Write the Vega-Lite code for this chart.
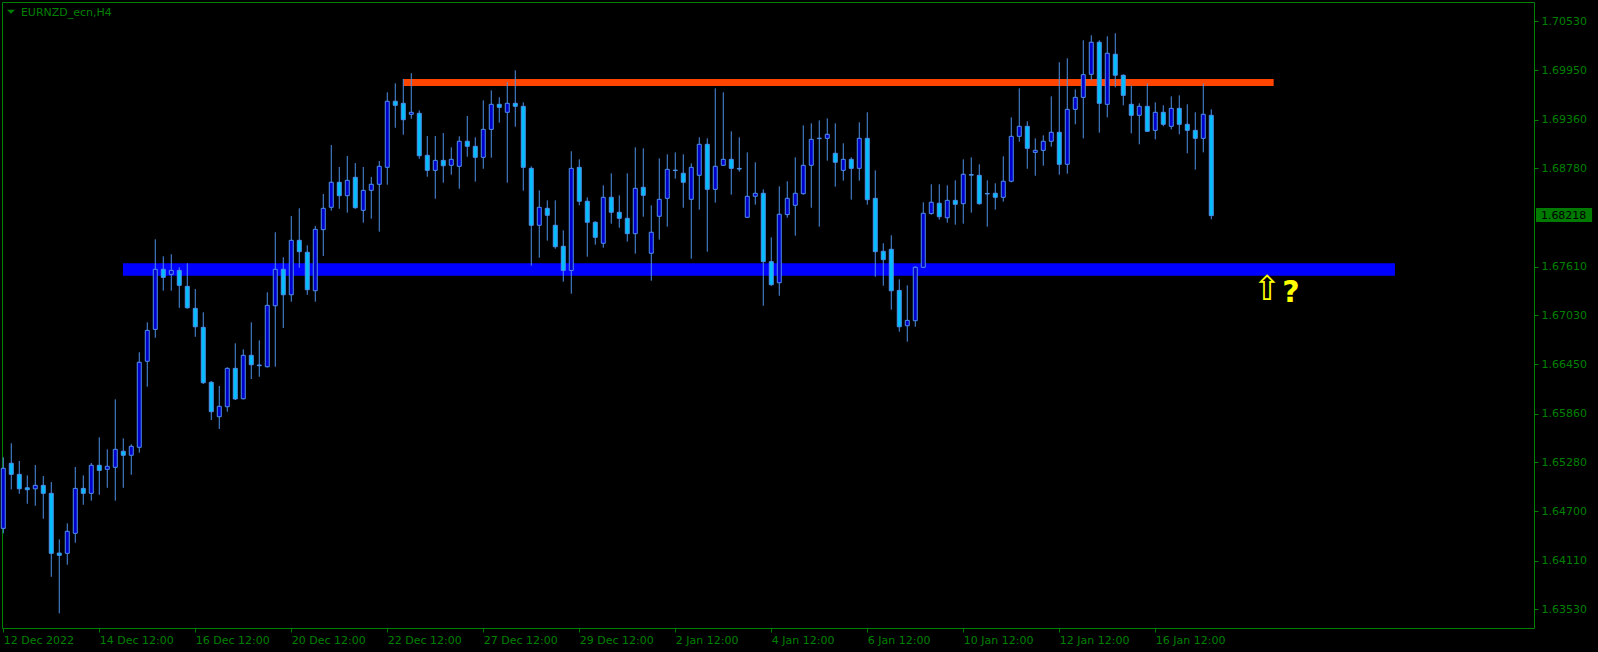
{
"$schema": "https://vega.github.io/schema/vega-lite/v6.json",
"width": 1532,
"height": 626,
"autosize": {"type": "none"},
"padding": {"left": 2, "top": 2, "right": 64, "bottom": 24},
"background": "#000000",
"config": {
  "view": {"stroke": "#008000", "strokeWidth": 1},
  "axis": {"domain": false, "grid": false, "labelFont": "DejaVu Sans", "labelFontSize": 11, "labelColor": "#008000", "tickColor": "#008000", "labelOverlap": false, "labelBound": false, "labelFlush": false}
},
"datasets": {
"bars": [
{"i":0,"o":1.64495,"h":1.65341,"l":1.64436,"c":1.65210},
{"i":1,"o":1.65270,"h":1.65508,"l":1.64959,"c":1.65138},
{"i":2,"o":1.65138,"h":1.65297,"l":1.64907,"c":1.64966},
{"i":3,"o":1.64978,"h":1.65126,"l":1.64788,"c":1.64955},
{"i":4,"o":1.64966,"h":1.65249,"l":1.64764,"c":1.65007},
{"i":5,"o":1.65007,"h":1.65118,"l":1.64609,"c":1.64912},
{"i":6,"o":1.64912,"h":1.65046,"l":1.63919,"c":1.64198},
{"i":7,"o":1.64201,"h":1.64364,"l":1.63484,"c":1.64174},
{"i":8,"o":1.64198,"h":1.64555,"l":1.64062,"c":1.64460},
{"i":9,"o":1.64436,"h":1.65226,"l":1.64324,"c":1.64971},
{"i":10,"o":1.64971,"h":1.65126,"l":1.64776,"c":1.64912},
{"i":11,"o":1.64912,"h":1.65273,"l":1.64824,"c":1.65246},
{"i":12,"o":1.65246,"h":1.65579,"l":1.64895,"c":1.65185},
{"i":13,"o":1.65198,"h":1.65436,"l":1.64978,"c":1.65234},
{"i":14,"o":1.65222,"h":1.66031,"l":1.64824,"c":1.65436},
{"i":15,"o":1.65413,"h":1.65567,"l":1.64978,"c":1.65365},
{"i":16,"o":1.65365,"h":1.65496,"l":1.65133,"c":1.65472},
{"i":17,"o":1.65460,"h":1.66591,"l":1.65396,"c":1.66472},
{"i":18,"o":1.66484,"h":1.66948,"l":1.66181,"c":1.66852},
{"i":19,"o":1.66864,"h":1.67936,"l":1.66764,"c":1.67579},
{"i":20,"o":1.67579,"h":1.67734,"l":1.67324,"c":1.67483},
{"i":21,"o":1.67519,"h":1.67758,"l":1.67324,"c":1.67566},
{"i":22,"o":1.67566,"h":1.67603,"l":1.67121,"c":1.67388},
{"i":23,"o":1.67376,"h":1.67651,"l":1.67110,"c":1.67121},
{"i":24,"o":1.67114,"h":1.67344,"l":1.66776,"c":1.66895},
{"i":25,"o":1.66888,"h":1.67067,"l":1.66213,"c":1.66229},
{"i":26,"o":1.66234,"h":1.66249,"l":1.65785,"c":1.65884},
{"i":27,"o":1.65824,"h":1.66190,"l":1.65678,"c":1.65948},
{"i":28,"o":1.65943,"h":1.66412,"l":1.65884,"c":1.66400},
{"i":29,"o":1.66400,"h":1.66698,"l":1.66023,"c":1.66035},
{"i":30,"o":1.66038,"h":1.66626,"l":1.66030,"c":1.66555},
{"i":31,"o":1.66555,"h":1.66948,"l":1.66273,"c":1.66443},
{"i":32,"o":1.66440,"h":1.66733,"l":1.66300,"c":1.66432},
{"i":33,"o":1.66419,"h":1.67305,"l":1.66410,"c":1.67150},
{"i":34,"o":1.67145,"h":1.68020,"l":1.66419,"c":1.67579},
{"i":35,"o":1.67579,"h":1.67722,"l":1.66880,"c":1.67276},
{"i":36,"o":1.67276,"h":1.68214,"l":1.67193,"c":1.67924},
{"i":37,"o":1.67924,"h":1.68305,"l":1.67598,"c":1.67789},
{"i":38,"o":1.67782,"h":1.67865,"l":1.67276,"c":1.67336},
{"i":39,"o":1.67324,"h":1.68095,"l":1.67193,"c":1.68055},
{"i":40,"o":1.68051,"h":1.68475,"l":1.67738,"c":1.68305},
{"i":41,"o":1.68317,"h":1.69058,"l":1.68277,"c":1.68615},
{"i":42,"o":1.68615,"h":1.68797,"l":1.68300,"c":1.68455},
{"i":43,"o":1.68455,"h":1.68928,"l":1.68253,"c":1.68638},
{"i":44,"o":1.68674,"h":1.68844,"l":1.68300,"c":1.68312},
{"i":45,"o":1.68281,"h":1.68797,"l":1.68134,"c":1.68519},
{"i":46,"o":1.68519,"h":1.68678,"l":1.68181,"c":1.68591},
{"i":47,"o":1.68591,"h":1.68868,"l":1.68027,"c":1.68805},
{"i":48,"o":1.68793,"h":1.69686,"l":1.68586,"c":1.69579},
{"i":49,"o":1.69579,"h":1.69793,"l":1.69264,"c":1.69531},
{"i":50,"o":1.69555,"h":1.69845,"l":1.69181,"c":1.69360},
{"i":51,"o":1.69424,"h":1.69913,"l":1.69371,"c":1.69448},
{"i":52,"o":1.69436,"h":1.69471,"l":1.68895,"c":1.68931},
{"i":53,"o":1.68936,"h":1.69166,"l":1.68681,"c":1.68757},
{"i":54,"o":1.68757,"h":1.69166,"l":1.68419,"c":1.68876},
{"i":55,"o":1.68876,"h":1.69201,"l":1.68610,"c":1.68812},
{"i":56,"o":1.68817,"h":1.69031,"l":1.68705,"c":1.68888},
{"i":57,"o":1.68805,"h":1.69162,"l":1.68538,"c":1.69103},
{"i":58,"o":1.69103,"h":1.69404,"l":1.68919,"c":1.69043},
{"i":59,"o":1.69043,"h":1.69150,"l":1.68622,"c":1.68912},
{"i":60,"o":1.68912,"h":1.69590,"l":1.68776,"c":1.69245},
{"i":61,"o":1.69245,"h":1.69709,"l":1.68907,"c":1.69543},
{"i":62,"o":1.69543,"h":1.69626,"l":1.69324,"c":1.69507},
{"i":63,"o":1.69448,"h":1.69805,"l":1.68610,"c":1.69555},
{"i":64,"o":1.69555,"h":1.69948,"l":1.69276,"c":1.69519},
{"i":65,"o":1.69519,"h":1.69567,"l":1.68515,"c":1.68793},
{"i":66,"o":1.68781,"h":1.68805,"l":1.67622,"c":1.68103},
{"i":67,"o":1.68103,"h":1.68519,"l":1.67717,"c":1.68317},
{"i":68,"o":1.68305,"h":1.68400,"l":1.67920,"c":1.68222},
{"i":69,"o":1.68103,"h":1.68400,"l":1.67824,"c":1.67848},
{"i":70,"o":1.67853,"h":1.68043,"l":1.67431,"c":1.67566},
{"i":71,"o":1.67566,"h":1.68984,"l":1.67288,"c":1.68781},
{"i":72,"o":1.68793,"h":1.68888,"l":1.68341,"c":1.68389},
{"i":73,"o":1.68389,"h":1.68436,"l":1.67729,"c":1.68139},
{"i":74,"o":1.68139,"h":1.68151,"l":1.67872,"c":1.67960},
{"i":75,"o":1.67889,"h":1.68579,"l":1.67836,"c":1.68436},
{"i":76,"o":1.68436,"h":1.68722,"l":1.68122,"c":1.68258},
{"i":77,"o":1.68258,"h":1.68460,"l":1.68074,"c":1.68186},
{"i":78,"o":1.68186,"h":1.68722,"l":1.67908,"c":1.68003},
{"i":79,"o":1.68003,"h":1.69031,"l":1.67765,"c":1.68543},
{"i":80,"o":1.68555,"h":1.69019,"l":1.68205,"c":1.68460},
{"i":81,"o":1.67770,"h":1.68341,"l":1.67443,"c":1.68020},
{"i":82,"o":1.68210,"h":1.68900,"l":1.67932,"c":1.68412},
{"i":83,"o":1.68424,"h":1.68948,"l":1.68086,"c":1.68769},
{"i":84,"o":1.68760,"h":1.68971,"l":1.68657,"c":1.68754},
{"i":85,"o":1.68722,"h":1.68948,"l":1.68312,"c":1.68615},
{"i":86,"o":1.68412,"h":1.68840,"l":1.67705,"c":1.68793},
{"i":87,"o":1.68698,"h":1.69150,"l":1.68289,"c":1.69067},
{"i":88,"o":1.69067,"h":1.69138,"l":1.67789,"c":1.68531},
{"i":89,"o":1.68531,"h":1.69733,"l":1.68372,"c":1.68805},
{"i":90,"o":1.68817,"h":1.69686,"l":1.68810,"c":1.68888},
{"i":91,"o":1.68888,"h":1.69222,"l":1.68467,"c":1.68781},
{"i":92,"o":1.68780,"h":1.69150,"l":1.68741,"c":1.68772},
{"i":93,"o":1.68198,"h":1.68971,"l":1.68190,"c":1.68448},
{"i":94,"o":1.68448,"h":1.68853,"l":1.68348,"c":1.68484},
{"i":95,"o":1.68484,"h":1.68531,"l":1.67145,"c":1.67670},
{"i":96,"o":1.67670,"h":1.67960,"l":1.67383,"c":1.67395},
{"i":97,"o":1.67419,"h":1.68567,"l":1.67264,"c":1.68234},
{"i":98,"o":1.68230,"h":1.68627,"l":1.68193,"c":1.68424},
{"i":99,"o":1.68341,"h":1.68912,"l":1.67979,"c":1.68484},
{"i":100,"o":1.68479,"h":1.69293,"l":1.68467,"c":1.68817},
{"i":101,"o":1.68817,"h":1.69317,"l":1.68312,"c":1.69126},
{"i":102,"o":1.69134,"h":1.69352,"l":1.68086,"c":1.69140},
{"i":103,"o":1.69138,"h":1.69376,"l":1.68872,"c":1.69186},
{"i":104,"o":1.68960,"h":1.69317,"l":1.68562,"c":1.68853},
{"i":105,"o":1.68757,"h":1.69079,"l":1.68634,"c":1.68888},
{"i":106,"o":1.68888,"h":1.68912,"l":1.68408,"c":1.68781},
{"i":107,"o":1.68781,"h":1.69329,"l":1.68634,"c":1.69138},
{"i":108,"o":1.69138,"h":1.69448,"l":1.68348,"c":1.68408},
{"i":109,"o":1.68424,"h":1.68757,"l":1.67490,"c":1.67789},
{"i":110,"o":1.67793,"h":1.67889,"l":1.67383,"c":1.67694},
{"i":111,"o":1.67817,"h":1.67984,"l":1.67098,"c":1.67324},
{"i":112,"o":1.67328,"h":1.67459,"l":1.66836,"c":1.66895},
{"i":113,"o":1.66907,"h":1.67388,"l":1.66717,"c":1.66971},
{"i":114,"o":1.66967,"h":1.67615,"l":1.66895,"c":1.67603},
{"i":115,"o":1.67603,"h":1.68377,"l":1.67595,"c":1.68246},
{"i":116,"o":1.68242,"h":1.68591,"l":1.68230,"c":1.68377},
{"i":117,"o":1.68365,"h":1.68591,"l":1.68170,"c":1.68205},
{"i":118,"o":1.68193,"h":1.68579,"l":1.68134,"c":1.68400},
{"i":119,"o":1.68400,"h":1.68638,"l":1.68110,"c":1.68353},
{"i":120,"o":1.68360,"h":1.68888,"l":1.68122,"c":1.68710},
{"i":121,"o":1.68706,"h":1.68912,"l":1.68253,"c":1.68700},
{"i":122,"o":1.68698,"h":1.68829,"l":1.68348,"c":1.68360},
{"i":123,"o":1.68482,"h":1.68638,"l":1.68086,"c":1.68476},
{"i":124,"o":1.68484,"h":1.68603,"l":1.68289,"c":1.68436},
{"i":125,"o":1.68436,"h":1.68924,"l":1.68384,"c":1.68627},
{"i":126,"o":1.68627,"h":1.69388,"l":1.68615,"c":1.69162},
{"i":127,"o":1.69162,"h":1.69733,"l":1.69098,"c":1.69281},
{"i":128,"o":1.69281,"h":1.69341,"l":1.68776,"c":1.69019},
{"i":129,"o":1.68971,"h":1.69138,"l":1.68693,"c":1.68995},
{"i":130,"o":1.68995,"h":1.69174,"l":1.68812,"c":1.69103},
{"i":131,"o":1.69103,"h":1.69638,"l":1.69038,"c":1.69210},
{"i":132,"o":1.69210,"h":1.70044,"l":1.68705,"c":1.68829},
{"i":133,"o":1.68829,"h":1.70091,"l":1.68717,"c":1.69483},
{"i":134,"o":1.69483,"h":1.69721,"l":1.69305,"c":1.69626},
{"i":135,"o":1.69626,"h":1.70305,"l":1.69138,"c":1.69896},
{"i":136,"o":1.69900,"h":1.70365,"l":1.69828,"c":1.70282},
{"i":137,"o":1.70282,"h":1.70305,"l":1.69205,"c":1.69555},
{"i":138,"o":1.69543,"h":1.70353,"l":1.69388,"c":1.70151},
{"i":139,"o":1.70139,"h":1.70389,"l":1.69745,"c":1.69889},
{"i":140,"o":1.69889,"h":1.69900,"l":1.69531,"c":1.69650},
{"i":141,"o":1.69543,"h":1.69769,"l":1.69198,"c":1.69412},
{"i":142,"o":1.69412,"h":1.69555,"l":1.69067,"c":1.69519},
{"i":143,"o":1.69519,"h":1.69793,"l":1.69215,"c":1.69222},
{"i":144,"o":1.69233,"h":1.69567,"l":1.69126,"c":1.69448},
{"i":145,"o":1.69448,"h":1.69531,"l":1.69281,"c":1.69305},
{"i":146,"o":1.69281,"h":1.69638,"l":1.69245,"c":1.69495},
{"i":147,"o":1.69495,"h":1.69650,"l":1.69186,"c":1.69305},
{"i":148,"o":1.69305,"h":1.69543,"l":1.68960,"c":1.69233},
{"i":149,"o":1.69233,"h":1.69448,"l":1.68765,"c":1.69138},
{"i":150,"o":1.69138,"h":1.69793,"l":1.68971,"c":1.69424},
{"i":151,"o":1.69412,"h":1.69483,"l":1.68174,"c":1.68218}
]
},
"layer": [
  {
    "data": {"values": [{"level": "support", "price": 1.67576, "from": 14.96, "to": 173.96}]},
    "mark": {"type": "rule", "color": "#0000FF", "strokeWidth": 12.5},
    "encoding": {
      "x": {"field": "from", "type": "quantitative"},
      "x2": {"field": "to"},
      "y": {"field": "price", "type": "quantitative"}
    }
  },
  {
    "data": {"values": [{"level": "resistance", "price": 1.69803, "from": 50.0, "to": 158.8}]},
    "mark": {"type": "rule", "color": "#FF4500", "strokeWidth": 7},
    "encoding": {
      "x": {"field": "from", "type": "quantitative"},
      "x2": {"field": "to"},
      "y": {"field": "price", "type": "quantitative"}
    }
  },
  {
    "data": {"name": "bars"},
    "mark": {"type": "rule", "color": "#4F8FE8", "strokeWidth": 1},
    "encoding": {
      "x": {"field": "i", "type": "quantitative",
            "scale": {"domain": [-0.16, 191.34], "nice": false, "zero": false, "padding": 0},
            "axis": {"orient": "bottom", "title": null, "values": [0,12,24,36,48,60,72,84,96,108,120,132,144], "tickSize": 4, "labelAlign": "left", "labelBaseline": "top", "labelPadding": 2,
                     "labelExpr": "['12 Dec 2022','14 Dec 12:00','16 Dec 12:00','20 Dec 12:00','22 Dec 12:00','27 Dec 12:00','29 Dec 12:00','2 Jan 12:00','4 Jan 12:00','6 Jan 12:00','10 Jan 12:00','12 Jan 12:00','16 Jan 12:00'][round(datum.value/12)]"}},
      "y": {"field": "l", "type": "quantitative",
            "scale": {"domain": [1.63309, 1.70761], "nice": false, "zero": false, "padding": 0},
            "axis": {"orient": "right", "title": null, "values": [1.7053,1.6995,1.6936,1.6878,1.6761,1.6703,1.6645,1.6586,1.6528,1.647,1.6411,1.6353], "format": ".5f", "tickSize": 4, "labelPadding": 3, "labelAlign": "left", "labelBaseline": "middle"}},
      "y2": {"field": "h"}
    }
  },
  {
    "data": {"name": "bars"},
    "mark": {"type": "bar", "size": 4, "stroke": "#4F8FE8", "strokeWidth": 1},
    "encoding": {
      "x": {"field": "i", "type": "quantitative",
            "scale": {"domain": [-0.16, 191.34], "nice": false, "zero": false, "padding": 0},
            "axis": {"orient": "bottom", "title": null, "values": [0,12,24,36,48,60,72,84,96,108,120,132,144], "tickSize": 4, "labelAlign": "left", "labelBaseline": "top", "labelPadding": 2,
                     "labelExpr": "['12 Dec 2022','14 Dec 12:00','16 Dec 12:00','20 Dec 12:00','22 Dec 12:00','27 Dec 12:00','29 Dec 12:00','2 Jan 12:00','4 Jan 12:00','6 Jan 12:00','10 Jan 12:00','12 Jan 12:00','16 Jan 12:00'][round(datum.value/12)]"}},
      "y": {"field": "o", "type": "quantitative",
            "scale": {"domain": [1.63309, 1.70761], "nice": false, "zero": false, "padding": 0},
            "axis": {"orient": "right", "title": null, "values": [1.7053,1.6995,1.6936,1.6878,1.6761,1.6703,1.6645,1.6586,1.6528,1.647,1.6411,1.6353], "format": ".5f", "tickSize": 4, "labelPadding": 3, "labelAlign": "left", "labelBaseline": "middle"}},
      "y2": {"field": "c"},
      "fill": {"condition": {"test": "datum.c > datum.o", "value": "#0000CD"}, "value": "#00BFFF"}
    }
  },
  {
    "data": {"values": [{"t": "EURNZD_ecn,H4", "x": 2.2, "p": 1.70636}]},
    "mark": {"type": "text", "align": "left", "baseline": "middle", "font": "DejaVu Sans", "fontSize": 11, "color": "#008000"},
    "encoding": {
      "x": {"field": "x", "type": "quantitative"},
      "y": {"field": "p", "type": "quantitative"},
      "text": {"field": "t"}
    }
  },
  {
    "data": {"values": [{"x": 0.96, "p": 1.70645}]},
    "mark": {"type": "point", "shape": "M-1,-0.5L1,-0.5L0,0.5Z", "filled": true, "size": 64, "color": "#008000", "opacity": 1},
    "encoding": {
      "x": {"field": "x", "type": "quantitative"},
      "y": {"field": "p", "type": "quantitative"}
    }
  },
  {
    "data": {"values": [{"t": "⇧", "x": 157.96, "p": 1.67332}]},
    "mark": {"type": "text", "align": "center", "baseline": "middle", "font": "DejaVu Sans", "fontSize": 34, "color": "#FFFF00"},
    "encoding": {
      "x": {"field": "x", "type": "quantitative"},
      "y": {"field": "p", "type": "quantitative"},
      "text": {"field": "t"}
    }
  },
  {
    "data": {"values": [{"t": "?", "x": 160.96, "p": 1.67302}]},
    "mark": {"type": "text", "align": "center", "baseline": "middle", "font": "DejaVu Sans", "fontSize": 30, "fontWeight": "bold", "color": "#FFFF00"},
    "encoding": {
      "x": {"field": "x", "type": "quantitative"},
      "y": {"field": "p", "type": "quantitative"},
      "text": {"field": "t"}
    }
  },
  {
    "data": {"values": [{"x": 191.59, "x2": 198.6, "p1": 1.68309, "p2": 1.68142}]},
    "mark": {"type": "rect", "color": "#007A00"},
    "encoding": {
      "x": {"field": "x", "type": "quantitative"},
      "x2": {"field": "x2"},
      "y": {"field": "p1", "type": "quantitative"},
      "y2": {"field": "p2"}
    }
  },
  {
    "data": {"values": [{"x": 192.2, "p": 1.68218}]},
    "mark": {"type": "text", "align": "left", "baseline": "middle", "font": "DejaVu Sans", "fontSize": 11, "color": "#000000"},
    "encoding": {
      "x": {"field": "x", "type": "quantitative"},
      "y": {"field": "p", "type": "quantitative"},
      "text": {"field": "p", "type": "quantitative", "format": ".5f"}
    }
  }
]
}
